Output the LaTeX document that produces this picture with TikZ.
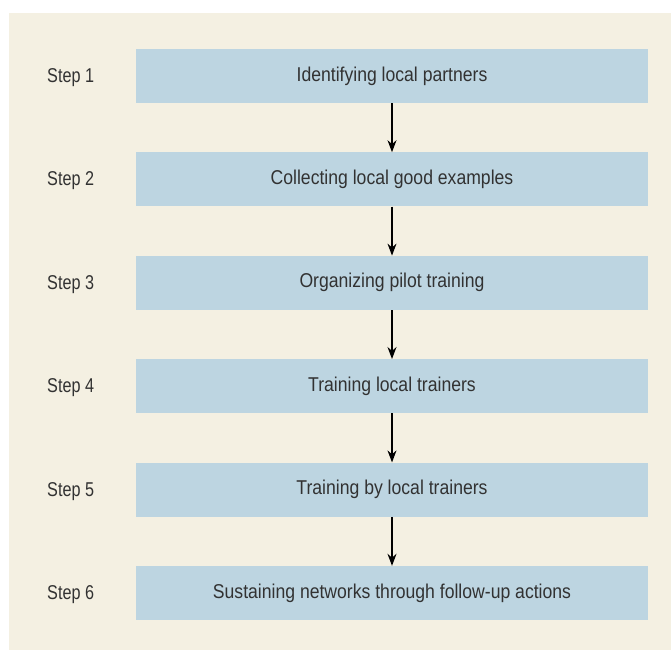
\documentclass[tikz,border=0pt]{standalone}
\usepackage{fontspec}
\setmainfont[FakeStretch=0.88]{Liberation Sans}
\newfontfamily\labelfont[FakeStretch=0.81]{Liberation Sans}
\usetikzlibrary{arrows.meta}
\definecolor{panel}{RGB}{244,240,226}
\definecolor{stepfill}{RGB}{189,213,225}
\definecolor{ink}{RGB}{50,50,50}
\begin{document}
\begin{tikzpicture}[x=1pt,y=-1pt,
  stepbox/.style={fill=stepfill, minimum width=512pt, minimum height=54pt,
    inner sep=0pt, text=ink, font=\fontsize{20}{22}\selectfont},
  steplabel/.style={anchor=base west, inner sep=0pt, text=ink,
    font=\labelfont\fontsize{20}{22}\selectfont},
  flow/.style={-{Stealth[length=12pt,width=9pt]}, line width=1.2pt}]
  \useasboundingbox (0,0) rectangle (671,650);
  % panel behind the flow
  \fill[panel] (9,13) rectangle (671,650);
  % step boxes and their labels
  \foreach \i/\txt [evaluate=\i as \yc using 76+(\i-1)*103.4] in {
      1/Identifying local partners,
      2/Collecting local good examples,
      3/Organizing pilot training,
      4/Training local trainers,
      5/Training by local trainers,
      6/Sustaining networks through follow-up actions}{
    \node[stepbox] (box\i) at (392,\yc) {\txt};
    \node[steplabel] (lab\i) at (47,\yc+6.5) {Step \i};
  }
  % connectors between consecutive steps
  \foreach \a/\b in {1/2,2/3,3/4,4/5,5/6}
    \draw[flow] (box\a.south) -- (box\b.north);
\end{tikzpicture}
\end{document}
